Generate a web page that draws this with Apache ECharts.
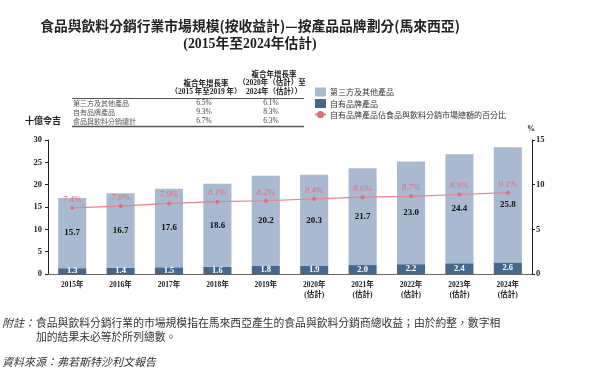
<!DOCTYPE html>
<html><head><meta charset="utf-8">
<script src="https://cdn.jsdelivr.net/npm/echarts@6/dist/echarts.min.js"></script>
<style>html,body{margin:0;padding:0;background:#fff}#c{width:593px;height:373px}</style>
</head><body><div id="c"></div>
<script>
var categories = ['2015年','2016年','2017年','2018年','2019年','2020年\n(估計)','2021年\n(估計)','2022年\n(估計)','2023年\n(估計)','2024年\n(估計)'];
var ownBrand = [1.3,1.4,1.5,1.6,1.8,1.9,2.0,2.2,2.4,2.6];
var thirdParty = [15.7,16.7,17.6,18.6,20.2,20.3,21.7,23.0,24.4,25.8];
var totals = [17.0,18.1,19.1,20.3,22.0,22.2,23.7,25.2,26.8,28.4];
var ownShare = [7.4,7.6,7.9,8.1,8.2,8.4,8.6,8.7,8.9,9.1];
var leftTicks = [0,5,10,15,20,25,30];
var rightTicks = [0,5,10,15];
var tableRows = ['第三方及其他產品','自有品牌產品','食品與飲料分銷總計'];
var cagr1519 = ['6.5%','9.3%','6.7%'];
var cagr2024 = ['6.1%','8.3%','6.3%'];
var seriesNames = ['第三方及其他產品','自有品牌產品','自有品牌產品佔食品與飲料分銷市場總額的百分比'];

var NUM = "'Liberation Serif','Noto Sans CJK TC'";
var CJK = "'Noto Sans CJK TC'";
var chart = echarts.init(document.getElementById('c'), null, {renderer:'canvas'});

var g = [];
function txt(x,y,s,o){ var st = Object.assign({text:s,x:0,y:0,fill:'#222',font:'8px '+CJK,textAlign:'center',textVerticalAlign:'middle'},o||{}); g.push({type:'text',x:x,y:y,style:st,silent:true}); }
txt(250,26,'食品與飲料分銷行業市場規模(按收益計)—按產品品牌劃分(馬來西亞)',{font:'bold 13.8px '+CJK});
txt(250,44,'(2015年至2024年估計)',{font:'bold 13.8px '+NUM});
txt(206,83,'複合年增長率',{font:'bold 7.5px '+CJK});
txt(206,92,'（2015 年至2019 年）',{font:'bold 7.5px '+NUM});
txt(274,74,'複合年增長率',{font:'bold 7.5px '+CJK});
txt(272,83,'（2020年（估計）至',{font:'bold 7.5px '+NUM});
txt(274,92,'2024年（估計））',{font:'bold 7.5px '+NUM});
for (var i=0;i<tableRows.length;i++){
  txt(73,103+i*9,tableRows[i],{textAlign:'left',font:'7px '+CJK,fill:'#555'});
  txt(204,103+i*9,cagr1519[i],{font:'7.5px '+NUM,fill:'#444'});
  txt(271,103+i*9,cagr2024[i],{font:'7.5px '+NUM,fill:'#444'});
}
txt(43,121,'十億令吉',{font:'bold 9px '+CJK});
g.push({type:'line',shape:{x1:72,y1:98.5,x2:304,y2:98.5},style:{stroke:'#555',lineWidth:1},silent:true});
g.push({type:'line',shape:{x1:72,y1:126.5,x2:304,y2:126.5},style:{stroke:'#555',lineWidth:1.5},silent:true});
txt(531,129,'%',{font:'bold 8px '+NUM});
txt(2,323,'附註：',{textAlign:'left',font:'italic 11px '+CJK,fill:'#333'});
txt(36,323,'食品與飲料分銷行業的市場規模指在馬來西亞產生的食品與飲料分銷商總收益；由於約整，數字相',{textAlign:'left',font:'10.8px '+CJK,fill:'#333'});
txt(36,337,'加的結果未必等於所列總數。',{textAlign:'left',font:'10.8px '+CJK,fill:'#333'});
txt(2,362,'資料來源：弗若斯特沙利文報告',{textAlign:'left',font:'italic 11px '+CJK,fill:'#333'});

var option = {
  animation:false,
  graphic:g,
  legend:{orient:'vertical',left:314,top:87.5,padding:0,itemWidth:11,itemHeight:9,itemGap:2.5,
    textStyle:{fontSize:8,fontFamily:CJK,color:'#333',padding:[0,0,0,-1]},
    data:[{name:seriesNames[0],icon:'rect'},{name:seriesNames[1],icon:'rect'},{name:seriesNames[2]}]},
  grid:{left:48,right:61,top:140,bottom:99},
  xAxis:{type:'category',data:categories,axisLine:{lineStyle:{color:'#666',width:1}},axisTick:{show:false},
    axisLabel:{interval:0,fontSize:7.5,fontWeight:'bold',fontFamily:NUM,color:'#222',margin:6,lineHeight:10}},
  yAxis:[
    {type:'value',min:0,max:30,interval:5,splitLine:{show:false},
     axisLine:{show:true,lineStyle:{color:'#222'}},axisTick:{show:true,length:3,lineStyle:{color:'#222'}},
     axisLabel:{fontSize:8.5,fontWeight:'bold',fontFamily:NUM,color:'#222',margin:6}},
    {type:'value',min:0,max:15,interval:5,splitLine:{show:false},position:'right',
     axisLine:{show:true,lineStyle:{color:'#222'}},axisTick:{show:true,length:3,lineStyle:{color:'#222'}},
     axisLabel:{fontSize:8.5,fontWeight:'bold',fontFamily:NUM,color:'#222',margin:4}}
  ],
  series:[
    {name:seriesNames[1],type:'bar',stack:'s',data:ownBrand,barWidth:'58%',itemStyle:{color:'#46688d'},
     label:{show:true,position:'inside',color:'#fff',fontSize:8.5,fontWeight:'bold',fontFamily:NUM,formatter:function(p){return p.value.toFixed(1);}}},
    {name:seriesNames[0],type:'bar',stack:'s',data:thirdParty,itemStyle:{color:'#a9b9d0'},
     label:{show:true,position:'inside',color:'#111',fontSize:9,fontWeight:'bold',fontFamily:NUM,formatter:function(p){return p.value.toFixed(1);}}},
    {name:'total',type:'line',data:totals,symbol:'none',lineStyle:{opacity:0},silent:true,
     label:{show:true,position:'top',distance:2,color:'#111',fontSize:9,fontWeight:'bold',fontFamily:NUM,formatter:function(p){return p.value.toFixed(1);}}},
    {name:seriesNames[2],type:'line',yAxisIndex:1,data:ownShare,symbol:'circle',symbolSize:4,
     itemStyle:{color:'#e06f7a'},lineStyle:{color:'#e8828b',width:1.2},
     label:{show:true,position:'top',distance:2,color:'#e06f7a',fontSize:9,fontStyle:'italic',fontFamily:NUM,formatter:function(p){return p.value.toFixed(1)+'%';}}}
  ]
};
chart.setOption(option);
</script></body></html>
